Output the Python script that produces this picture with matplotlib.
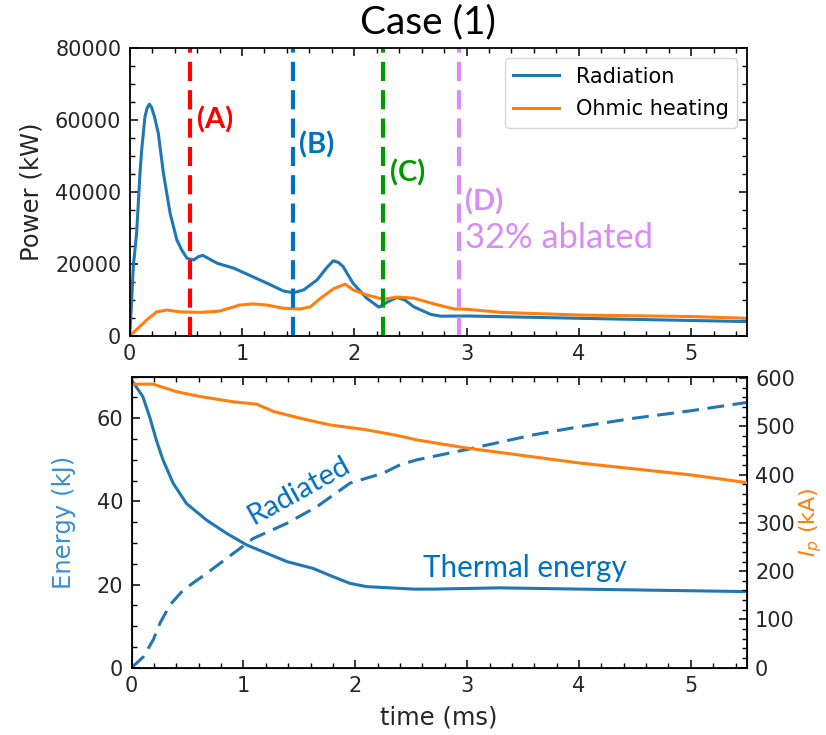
import matplotlib
matplotlib.use("Agg")
import matplotlib.pyplot as plt
from matplotlib.ticker import MultipleLocator

# top panel: power (kW) vs time (ms)
t_rad = [0, 0.018, 0.032, 0.062, 0.092, 0.107, 0.136, 0.155, 0.175, 0.195, 0.22, 0.255,
         0.30, 0.36, 0.42, 0.463, 0.51, 0.57, 0.61, 0.65, 0.78, 0.93, 1.10, 1.22, 1.37,
         1.46, 1.55, 1.67, 1.75, 1.813, 1.86, 1.90, 1.99, 2.11, 2.22, 2.30, 2.38, 2.45,
         2.53, 2.68, 2.77, 3.01, 4.02, 5.0, 5.5]
p_rad = [0, 10000, 19300, 28600, 45300, 51700, 60900, 63300, 64400, 63500, 61000, 56300,
         45300, 34100, 26700, 23900, 21600, 21100, 22000, 22400, 20200, 18800, 16400, 14700, 12500,
         12000, 12800, 15600, 18800, 20900, 20400, 19300, 14600, 10500, 8000, 9500, 10700, 10000,
         8100, 6000, 5500, 5550, 4900, 4300, 4000]
t_ohm = [0, 0.09, 0.15, 0.24, 0.33, 0.45, 0.63, 0.80, 0.98, 1.10, 1.22, 1.37, 1.52,
         1.61, 1.70, 1.82, 1.92, 1.99, 2.11, 2.26, 2.38, 2.53, 2.71, 2.89, 3.01, 3.31,
         4.02, 5.0, 5.5]
p_ohm = [0, 2600, 4400, 6700, 7200, 6700, 6550, 6900, 8600, 8900, 8600, 7700, 7500,
         8100, 10500, 13200, 14400, 12800, 11400, 10200, 10800, 10500, 8900, 7500, 7400, 6550,
         5800, 5400, 4900]

# event markers
ev_t = [0.535, 1.45, 2.255, 2.93]
ev_colors = ['#ff0000', '#0070c0', '#009900', '#d98cf5']
ev_labels = ['(A)', '(B)', '(C)', '(D)']
ev_text_x = [0.6, 1.51, 2.32, 2.99]
ev_text_y = [57700, 50600, 42900, 35000]

# bottom panel: energy (kJ) and plasma current (kA)
t_th = [0, 0.10, 0.16, 0.22, 0.28, 0.37, 0.49, 0.67, 0.85, 1.03, 1.21, 1.39, 1.62,
        1.80, 1.95, 2.10, 2.52, 2.70, 3.29, 4.01, 5.5]
e_th = [69.2, 65.2, 60.4, 54.8, 50.0, 44.4, 39.5, 35.5, 32.3, 29.5, 27.5, 25.5, 23.9,
        21.9, 20.3, 19.5, 18.9, 18.9, 19.2, 18.9, 18.3]
t_rd = [0, 0.104, 0.193, 0.253, 0.343, 0.462, 0.671, 0.909, 1.088, 1.386, 1.655, 1.953,
        2.25, 2.40, 2.55, 3.0, 3.59, 4.01, 4.49, 5.0, 5.5]
e_rd = [0, 2.6, 6.7, 10.7, 15.1, 18.7, 22.7, 27.5, 31.1, 34.7, 38.7, 44.4,
        46.8, 48.8, 50.0, 52.5, 56.0, 58.0, 60.0, 61.8, 63.8]
t_ip = [0, 0.193, 0.40, 0.61, 0.909, 1.118, 1.267, 1.505, 1.774, 2.1, 2.40, 2.55, 3.0,
        4.01, 5.0, 5.5]
ip = [587.5, 587.5, 572, 562, 551, 546, 531, 517, 503, 493, 480, 472, 455,
      424, 399.5, 383.5]

fs = 15
lab_fs = 17.5
tick_col = '#262626'
office_blue = '#0070c0'

def style(ax, right=True):
    ax.tick_params(which='both', direction='in', top=True, right=right,
                   labelsize=fs, labelcolor=tick_col, pad=6)
    ax.tick_params(which='major', length=6, width=1.1)
    ax.tick_params(which='minor', length=3.5, width=1.0)
    for s in ax.spines.values():
        s.set_linewidth(1.3)
    ax.xaxis.set_major_locator(MultipleLocator(1))
    ax.xaxis.set_minor_locator(MultipleLocator(0.2))

fig = plt.figure(figsize=(8.26, 7.35), dpi=100)
ax1 = fig.add_axes([0.157, 0.5429, 0.7477, 0.3918])
ax2 = fig.add_axes([0.1594, 0.0916, 0.7446, 0.3959])

# ---- top
ax1.plot(t_rad, p_rad, color='#1f77b4', lw=2.2, label='Radiation')
ax1.plot(t_ohm, p_ohm, color='#ff7f0e', lw=2.2, label='Ohmic heating')
for t, c, lab, tx, ty in zip(ev_t, ev_colors, ev_labels, ev_text_x, ev_text_y):
    ax1.axvline(t, color=c, lw=3.0, linestyle=(0, (4.6, 2.2)))
    ax1.text(tx, ty, lab, color=c, fontsize=21, fontweight='bold',
             family='Lato', ha='left', va='baseline')
ax1.text(2.99, 24400, '32% ablated', color=ev_colors[3], fontsize=24.8,
         family='Lato', ha='left', va='baseline')
ax1.set_xlim(0, 5.5)
ax1.set_ylim(0, 80000)
ax1.yaxis.set_major_locator(MultipleLocator(20000))
ax1.yaxis.set_minor_locator(MultipleLocator(5000))
style(ax1)
ax1.set_ylabel('Power (kW)', fontsize=lab_fs, color=tick_col, labelpad=8)
ax1.legend(loc='upper right', fontsize=15, labelspacing=0.6, handlelength=2.2)
fig.text(0.518, 0.970, 'Case (1)', fontsize=28, family='Lato', ha='center', va='center')

# ---- bottom
ax2.plot(t_th, e_th, color='#1f77b4', lw=2.2)
ax2.plot(t_rd, e_rd, color='#1f77b4', lw=2.2, linestyle=(0, (5.5, 2.8)))
ax2.set_xlim(0, 5.5)
ax2.set_ylim(0, 70)
ax2.yaxis.set_major_locator(MultipleLocator(20))
ax2.yaxis.set_minor_locator(MultipleLocator(5))
style(ax2, right=False)
ax2.set_ylabel('Energy (kJ)', fontsize=lab_fs, color='#3a8ed0', labelpad=15)
ax2.set_xlabel('time (ms)', fontsize=lab_fs, color=tick_col, labelpad=7)
ax2.text(1.496, 42.5, 'Radiated', rotation=29, color=office_blue, fontsize=21,
         family='Lato', ha='center', va='center', rotation_mode='anchor')
ax2.text(2.606, 21.9, 'Thermal energy', color=office_blue, fontsize=21.3,
         family='Lato', ha='left', va='baseline')

ax3 = ax2.twinx()
ax3.plot(t_ip, ip, color='#ff7f0e', lw=2.2)
ax3.set_ylim(0, 603)
ax3.yaxis.set_major_locator(MultipleLocator(100))
ax3.yaxis.set_minor_locator(MultipleLocator(20))
ax3.tick_params(which='both', direction='in', right=True, labelsize=fs,
                labelcolor=tick_col, pad=6)
ax3.tick_params(which='major', length=6, width=1.1)
ax3.tick_params(which='minor', length=3.5, width=1.0)
ax3.set_ylabel(r'$I_p$ (kA)', fontsize=16, color='#ff7f0e', labelpad=2)

fig.savefig('out.png', dpi=100)
